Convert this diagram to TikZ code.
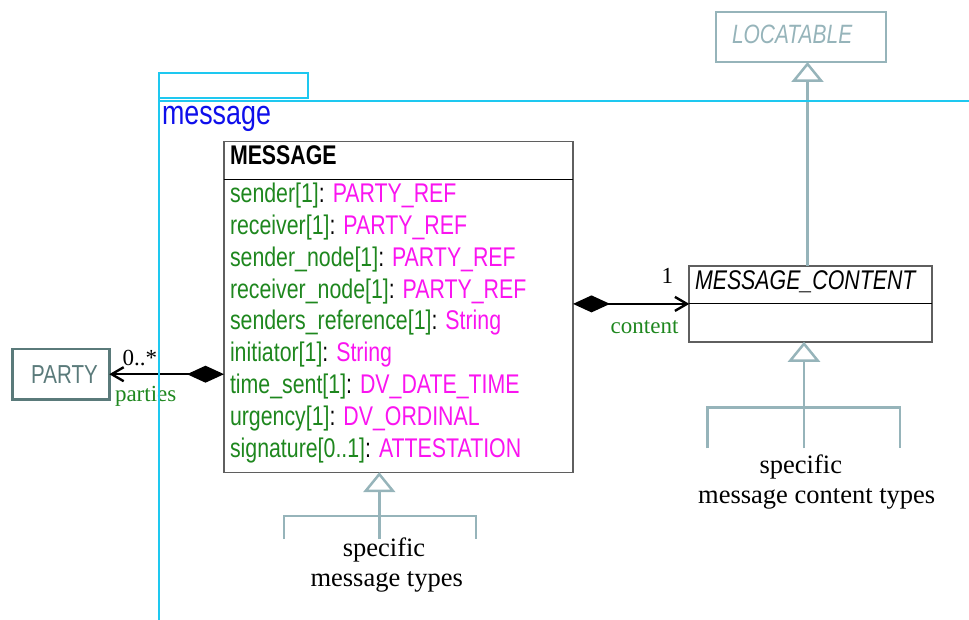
\documentclass[tikz,border=0pt]{standalone}
\usepackage{fontspec}
\setmainfont{Liberation Serif}
\newfontfamily\umlfont[FakeStretch=0.79]{Liberation Sans}
\usetikzlibrary{arrows.meta}

\definecolor{pkgcyan}{RGB}{30,200,240}
\definecolor{pkgblue}{RGB}{15,15,235}
\definecolor{attrgreen}{RGB}{30,135,30}
\definecolor{typemagenta}{RGB}{250,20,240}
\definecolor{inhgray}{RGB}{150,180,186}
\definecolor{partygray}{RGB}{90,122,122}
\definecolor{boxgray}{RGB}{95,95,95}

\begin{document}
\begin{tikzpicture}[x=1pt, y=-1pt,
  every node/.style = {inner sep=0pt, outer sep=0pt},
  classbox/.style = {draw=boxgray, line width=#1},
  classbox/.default = 1.3pt,
  umltext/.style = {anchor=base west, font=\umlfont\fontsize{27}{31}\selectfont},
  rolename/.style = {anchor=base west, text=attrgreen, font=\fontsize{23}{26}\selectfont},
  mult/.style = {anchor=base west, font=\fontsize{23}{26}\selectfont},
  note/.style = {anchor=base, font=\fontsize{26.5}{30}\selectfont},
  assoc/.style = {line width=2.4pt, {Diamond[length=37pt,width=17pt]}-{Straight Barb[length=12pt,width=14pt]}},
  inherit/.style = {draw=inhgray, line width=2.5pt},
  generalise/.style = {inherit, -{Triangle[open, length=20pt, width=32pt]}},
  pkgline/.style = {draw=pkgcyan, line width=2.5pt}
  ]
  \useasboundingbox (0,0) rectangle (969,620);

  % classes
  \node[classbox, minimum width=349pt, minimum height=331pt] (MESSAGE) at (398.5,306.7) {};
  \draw[line width=1.2pt] ([yshift=-38pt]MESSAGE.north west) -- ([yshift=-38pt]MESSAGE.north east);
  \node[umltext] (MESSAGE-name) at (230,165) {\bfseries MESSAGE};
  \foreach \attr/\atype [count=\i] in {sender[1]/PARTY\_REF, receiver[1]/PARTY\_REF,
      sender\_node[1]/PARTY\_REF, receiver\_node[1]/PARTY\_REF, senders\_reference[1]/String,
      initiator[1]/String, time\_sent[1]/DV\_DATE\_TIME, urgency[1]/DV\_ORDINAL,
      signature[0..1]/ATTESTATION}
    \node[umltext] (attr-\i) at (230,{170.9+31.8*\i})
      {\textcolor{attrgreen}{\attr}: \textcolor{typemagenta}{\atype}};

  \node[classbox=2pt, minimum width=243pt, minimum height=75.7pt] (MSGCONTENT) at (810.8,303.9) {};
  \draw[line width=1.2pt] (MSGCONTENT.west) -- (MSGCONTENT.east);
  \node[umltext] (MSGCONTENT-name) at (695,290) {\itshape MESSAGE\_CONTENT};

  \node[draw=inhgray, line width=2.5pt, minimum width=170pt, minimum height=50pt] (LOCATABLE) at (801,37) {};
  \node[umltext, text=inhgray, font=\umlfont\fontsize{26.5}{30}\selectfont] (LOCATABLE-name) at (732,44) {\itshape LOCATABLE};

  \node[draw=partygray, line width=2.5pt, minimum width=96.6pt, minimum height=50.3pt,
        text=partygray, font=\umlfont\fontsize{26}{30}\selectfont] (PARTY) at (61,374.2) {\hspace*{7pt}PARTY};

  % associations
  \draw[assoc] (MESSAGE.west |- PARTY.east) -- (PARTY.east);
  \node[mult] (parties-mult) at (122.7,365) {0..*};
  \node[rolename] (parties-role) at (115,401.7) {parties};
  \draw[assoc] (MESSAGE.east |- MSGCONTENT.west) -- (MSGCONTENT.west);
  \node[mult] (content-mult) at (661.7,284) {1};
  \node[rolename] (content-role) at (610.7,333) {content};

  % inheritance
  \draw[generalise] ([xshift=-3.3pt]MSGCONTENT.north) -- ([xshift=-3.3pt]MSGCONTENT.north |- LOCATABLE.south);

  \coordinate (cntsub-l) at (707.5,448.3);
  \coordinate (cntsub-m) at (804,448.3);
  \coordinate (cntsub-r) at (900,448.3);
  \draw[generalise] (cntsub-m) -- (cntsub-m |- MSGCONTENT.south);
  \draw[inherit] (cntsub-l) -- ++(0,-40.6) -| (cntsub-r);
  \node[note] (cnttypes) at (816.7,503.3) {message content types};
  \node[note] (cntspec) at (800.8,473.3) {specific};

  \coordinate (msgsub-l) at (284,539);
  \coordinate (msgsub-m) at (379.3,539);
  \coordinate (msgsub-r) at (476,539);
  \draw[generalise] (msgsub-m) -- (msgsub-m |- MESSAGE.south);
  \draw[inherit] (msgsub-l) -- ++(0,-23) -| (msgsub-r);
  \node[note] (msgtypes) at (386.7,586.7) {message types};
  \node[note] (msgspec) at (384,556.7) {specific};

  % package
  \draw[pkgline] (159,73) rectangle (308,98);
  \draw[pkgline] (159,101) -- (969,101);
  \draw[pkgline] (159,73) -- (159,620);
  \node[umltext, text=pkgblue, font=\umlfont\fontsize{34}{38}\selectfont] (pkgname) at (162,125) {message};
\end{tikzpicture}
\end{document}
